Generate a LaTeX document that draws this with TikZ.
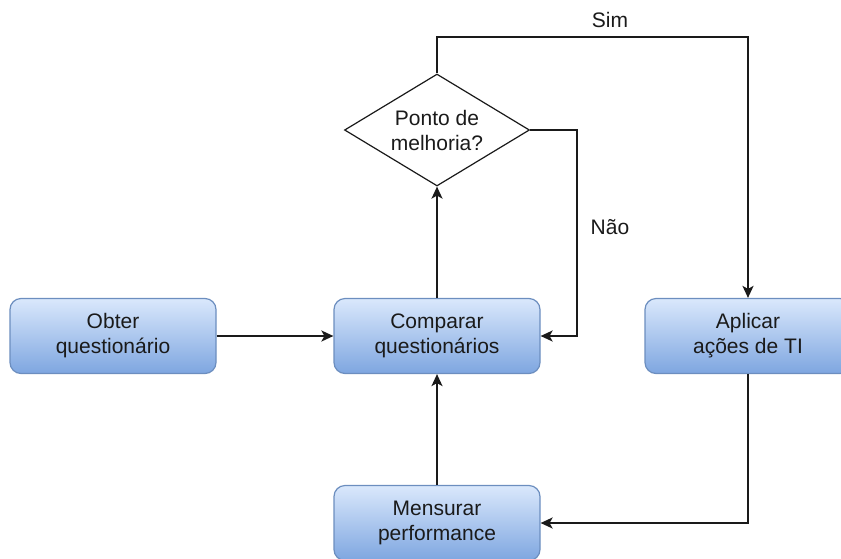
\documentclass[tikz,border=0pt]{standalone}
\usepackage{fontspec}
\setmainfont{Liberation Sans}
\usetikzlibrary{shapes.geometric,arrows.meta,positioning}

\definecolor{boxline}{HTML}{6C8EBF}
\definecolor{boxtop}{HTML}{DAE8FC}
\definecolor{boxbottom}{HTML}{7EA6E0}
\definecolor{ink}{HTML}{1A1A1A}

\begin{document}
\begin{tikzpicture}[x=1pt,y=-1pt,
        every node/.style={font=\fontsize{21}{25}\selectfont,text=ink},
        box/.style={rectangle,rounded corners=11pt,draw=boxline,line width=1.2pt,
            top color=boxtop,bottom color=boxbottom,
            minimum width=206pt,minimum height=75pt,inner sep=0pt,align=center},
        decision/.style={diamond,aspect=1.65,draw=ink,line width=1.2pt,fill=white,
            minimum width=185pt,minimum height=112pt,inner sep=0pt,align=center},
        flow/.style={draw=ink,line width=1.8pt,-{Stealth[length=12pt,width=11pt,inset=3pt]}}]

    \useasboundingbox (0,0) rectangle (841,558);

    % processos
    \node [box] (obter) at (113,336) {Obter\\questionário};
    \node [box] (comparar) at (437,336) {Comparar\\questionários};
    \node [box] (aplicar) at (748,336) {Aplicar\\ações de TI};
    \node [box] (mensurar) at (437,523) {Mensurar\\performance};
    \node [decision] (ponto) at (437,130) {Ponto de\\melhoria?};

    % cantos das ligações
    \coordinate (simcanto) at (748,37);
    \coordinate (naocanto) at (577,130);

    \draw [flow] (obter) -- (comparar);
    \draw [flow] (comparar) -- (ponto);
    \draw [flow] (mensurar) -- (comparar);
    \draw [flow] (ponto.north) |- (simcanto) -- (aplicar.north);
    \draw [flow] (ponto.east) -- (naocanto) |- (comparar.east);
    \draw [flow] (aplicar.south) |- (mensurar.east);

    \node (sim) at (610,20) {Sim};
    \node (nao) at (610,227) {Não};
\end{tikzpicture}
\end{document}
